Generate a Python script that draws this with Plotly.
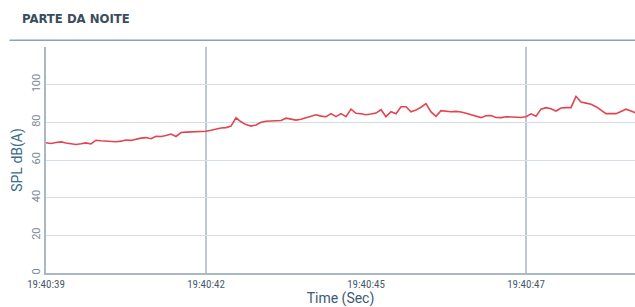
import plotly.graph_objects as go

title_text = "PARTE DA NOITE"
spl_values = [
    69.2, 68.8, 69.3, 69.6, 69.0, 68.7, 68.2, 68.6, 69.1, 68.5,
    70.5, 70.2, 69.9, 69.8, 69.7, 70.0, 70.6, 70.4, 71.1, 71.6,
    71.9, 71.3, 72.6, 72.5, 73.0, 73.8, 72.5, 74.6, 74.8, 74.9,
    75.3, 75.1, 75.3, 75.8, 76.6, 77.0, 77.2, 78.0, 82.4, 80.3,
    78.8, 78.0, 78.6, 80.0, 80.6, 80.8, 80.9, 81.0, 82.2, 81.6,
    81.2, 81.6, 82.5, 83.5, 84.0, 83.3, 83.0, 84.6, 83.0, 84.6,
    83.0, 87.0, 84.8, 84.6, 84.0, 84.4, 84.9, 86.7, 83.0, 85.6,
    84.6, 88.3, 88.3, 85.6, 86.5, 88.0, 89.9, 85.5, 83.2, 86.2,
    85.8, 85.6, 85.8, 85.5, 84.8, 84.0, 83.0, 82.5, 83.5, 83.6,
    82.6, 82.5, 83.0, 82.8, 82.5, 82.6, 83.0, 84.5, 83.2, 87.0,
    87.8, 87.2, 86.0, 87.6, 87.8, 87.8, 93.8, 90.8, 90.2, 89.6,
    88.3, 86.5, 84.6, 84.6, 84.6, 85.8, 87.0, 86.0, 85.0,
]
sample_index = list(range(len(spl_values)))
tick_index = [0, 32, 64, 96]
tick_labels = ["19:40:39", "19:40:42", "19:40:45", "19:40:47"]
marker_index = [32, 96]
y_ticks = [0, 20, 40, 60, 80, 100]

fig = go.Figure()
fig.add_trace(go.Scatter(
    x=sample_index, y=spl_values, mode="lines",
    line=dict(color="#e2454f", width=1.6), showlegend=False,
))

for m in marker_index:
    fig.add_shape(type="line", xref="x", yref="paper", x0=m, x1=m, y0=0, y1=1,
                  line=dict(color="#8fa4b4", width=1.2), layer="below")

# header rule
fig.add_shape(type="line", xref="paper", yref="paper", x0=-0.062, x1=1.0,
              y0=1.03, y1=1.03, line=dict(color="#8aa3ba", width=1.5))

fig.add_annotation(text=title_text, xref="paper", yref="paper",
                   x=-0.044, y=1.085, xanchor="left", yanchor="bottom", showarrow=False,
                   font=dict(family="DejaVu Sans Condensed, Liberation Sans Narrow, Roboto Condensed, Roboto",
                             size=13, color="#3b4c5e", weight=700))

fig.update_layout(
    width=635, height=307,
    margin=dict(l=46, r=0, t=47, b=34),
    paper_bgcolor="white", plot_bgcolor="white",
    font=dict(family="Roboto, DejaVu Sans", color="#4a5b6b"),
    xaxis=dict(
        range=[0, 117.8], tickmode="array", tickvals=tick_index, ticktext=tick_labels,
        showgrid=False, zeroline=False, showline=True, linecolor="#a9b8c3", linewidth=2,
        tickfont=dict(size=11, color="#4a5b6b", family="Roboto Condensed, Roboto"),
        ticks="", automargin=False,
        title=dict(text="Time (Sec)", font=dict(size=14, color="#3e5a70"), standoff=1),
    ),
    yaxis=dict(
        range=[0, 120], tickmode="array", tickvals=y_ticks,
        showgrid=True, gridcolor="#d6dfe6", gridwidth=1, zeroline=False,
        showline=True, linecolor="#aab8c2", linewidth=1.5,
        tickangle=-90, tickfont=dict(size=11, color="#7a8a98"),
        ticks="", automargin=False,
        title=dict(text="SPL dB(A)", font=dict(size=14, color="#3a6b8c"), standoff=4),
    ),
)

fig.write_html("out.html", config={"displayModeBar": False},
               post_script="document.body.style.margin='0';")
